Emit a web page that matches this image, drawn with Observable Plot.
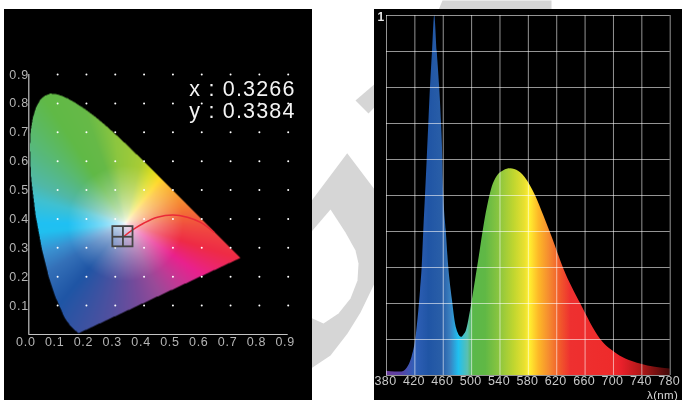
<!DOCTYPE html>
<html>
<head>
<meta charset="utf-8">
<script src="https://cdn.jsdelivr.net/npm/d3@7"></script>
<script src="https://cdn.jsdelivr.net/npm/@observablehq/plot@0.6"></script>
<style>
  html, body { margin: 0; padding: 0; background: #fff; }
  #page { position: relative; width: 682px; height: 401px; overflow: hidden; filter: blur(.35px); }
  #page svg { position: absolute; max-width: none; }
  .spaced text { letter-spacing: .7px; }
  .specpanel text { letter-spacing: .35px; }
  #page g[font-size="21.5"] text { letter-spacing: 1.2px; }
</style>
</head>
<body>
<div id="page"></div>
<script>
// ---- chromaticity diagram data ----
const locusX = [.1741,.1720,.1689,.1644,.1566,.1440,.1241,.0913,.0687,.0454,.0235,.0082,.0050,.0039,.0065,.0139,.0244,.0389,.0550,.0743,.0940,.1142,.1345,.1547,.1929,.2296,.2658,.3016,.3373,.3731,.4087,.4441,.4788,.5125,.5448,.5752,.6029,.6270,.6658,.6915,.7079,.7190,.7300,.7347];
const locusY = [.0050,.0048,.0069,.0109,.0177,.0297,.0578,.1327,.2007,.2950,.4127,.5384,.6000,.6548,.7060,.7502,.7840,.8120,.8262,.8338,.8323,.8262,.8170,.8059,.7816,.7543,.7243,.6923,.6589,.6245,.5896,.5547,.5202,.4866,.4544,.4242,.3965,.3725,.3340,.3083,.2920,.2809,.2700,.2653];
const tickValues = [0,.1,.2,.3,.4,.5,.6,.7,.8,.9];
const dotValues = [.1,.2,.3,.4,.5,.6,.7,.8,.9];
const locusRedX = [.332,.36,.40,.446,.50,.55,.596,.642];
const locusRedY = [.341,.362,.386,.406,.414,.406,.388,.354];
const pointX = .3266, pointY = .3384;
const markerHalf = .035;
const readout = ["x : 0.3266", "y : 0.3384"];
const readoutX = [.926, .926];
const readoutY = [.824, .748];
const whiteX = .335, whiteY = .385;
const hueAngles = [-180,-174,-160,-148,-129,-100,-79,-64,-50,-34,-17,-3,10,17,30,45,52,63,76,97,110,123,156,165,180];
const hueColors = ["#1fc0f3","#20c0f0","#3a90d0","#3470b8","#1f55a5","#50509f","#7a4a9a","#9a4a98","#c03a95","#e9218d","#ee2b45","#f04a40","#f26d35","#f58032","#f7a035","#fdc030","#ffd820","#d8dc20","#a8cc35","#8cc63f","#66b947","#60b946","#50b8a8","#40c0d0","#1fc0f3"];

// ---- spectrum data ----
const specLambda = [380,392,402,411.5,416,421,425.6,428,430.3,432.6,435,436,437.4,439.7,442,444.9,448,451.5,455,457.6,459.4,460,460.8,464.2,467.8,471.2,473,477.3,481,485.8,489,492.8,498.5,505.5,512,517.2,524.3,529,536,545.4,554.9,566.6,578.4,590,601.8,613.6,630,653.6,682,705,738,780];
const specValue = [.012,.01,.01,.028,.051,.097,.18,.236,.3,.403,.5,.542,.6,.7,.8,.9,1,.9,.8,.7,.6,.542,.5,.403,.3,.236,.208,.144,.118,.106,.112,.125,.18,.264,.345,.412,.486,.523,.553,.569,.574,.567,.542,.5,.444,.384,.296,.2,.1,.06,.032,.018];
const stopLambda = [380,400,420,440,460,470,482,495,502,520,540,560,575,582,595,610,625,640,700,712,740,780];
const stopColors = ["#6a3d9a","#5a40a5","#3060b8","#2055a5","#2a5fa8","#3a80c0","#20c0f0","#5ac0b0","#5ab84a","#60b845","#8cc63f","#c0d62f","#e8e030","#fff030","#fdb827","#f58a30","#f15a2b","#ee3030","#ee2b2b","#e8202a","#b01818","#400808"];
const lambdaTicks = [380,420,460,500,540,580,620,660,700,740,780];
const powerTicks = [0,.1,.2,.3,.4,.5,.6,.7,.8,.9,1];

// ---- watermark behind the panels ----
const wmGroup = ["top","top","top","top","a","a","a","a","a","a","a","a","a","a","b","b","b","b"];
const wmX = [437,442,551,551, 300,346.7,390,390,374,360,347,330,312,300, 355,368,390,390];
const wmY = [12,0,0,12, 215,152.7,210,260,283,312,333,355,367,375, 100,113,90,70];
const holeX = [330,345,355,358,357,350,338,323,312,300,300,312];
const holeY = [209,232,250,263,280,298,313,323,318,312,245,230];

const page = document.getElementById("page");
const font = "'Liberation Sans', Arial, sans-serif";

// watermark
const wm = Plot.plot({
  width: 682, height: 401, margin: 0,
  x: {axis: null, domain: [0, 682], range: [0, 682]},
  y: {axis: null, domain: [0, 401], range: [0, 401]},
  style: {background: "#fff", left: "0px", top: "0px"},
  marks: [
    Plot.line(wmX, {x: wmX, y: wmY, z: wmGroup, fill: "#d6d6d6", stroke: "none"}),
    Plot.line(holeX, {x: holeX, y: holeY, fill: "#fff", stroke: "none"})
  ]
});
page.appendChild(wm);

// chromaticity panel
const polygon = locusX.map((x, i) => [x, locusY[i]]);
const hue = d3.scaleLinear().domain(hueAngles).range(hueColors).interpolate(d3.interpolateRgb);
function gamutColor(x, y) {
  if (!d3.polygonContains(polygon, [x, y])) return null;
  const dx = x - whiteX, dy = y - whiteY;
  const angle = Math.atan2(dy, dx) * 180 / Math.PI;
  const t = Math.pow(Math.min(1, Math.hypot(dx, dy) / .2), .6);
  return d3.rgb(d3.interpolateRgb("#ffffff", hue(angle))(t)).formatHex();
}
const dots = d3.cross(dotValues, dotValues);
const cie = Plot.plot({
  width: 308, height: 391,
  marginLeft: 24.3, marginRight: 24.3, marginTop: 65, marginBottom: 66,
  x: {domain: [0, .9]},
  y: {domain: [0, .9]},
  color: {type: "identity"},
  style: {background: "#000", left: "4px", top: "9px", fontFamily: font},
  className: "spaced",
  marks: [
    Plot.raster({fill: gamutColor, pixelSize: .5, x1: 0, x2: .9, y1: 0, y2: .9}),
    Plot.dot(dots, {x: d => d[0], y: d => d[1], r: 1, fill: "#fff", stroke: "none"}),
    Plot.ruleX([0], {stroke: "#c4c4c4", strokeWidth: 1.2}),
    Plot.ruleY([0], {stroke: "#c4c4c4", strokeWidth: 1.2}),
    Plot.axisX({ticks: tickValues, tickFormat: ".1f", tickSize: 0, tickPadding: 3, dx: -3, fill: "#b4b4b4", fontSize: 12.5, label: null}),
    Plot.axisY({ticks: dotValues, tickFormat: ".1f", tickSize: 0, tickPadding: 0, fill: "#b4b4b4", fontSize: 12.5, label: null}),
    Plot.line(locusRedX, {x: locusRedX, y: locusRedY, stroke: "#ea2a38", strokeWidth: 1.5, curve: "catmull-rom"}),
    Plot.rect([0], {x1: pointX - markerHalf, x2: pointX + markerHalf, y1: pointY - markerHalf, y2: pointY + markerHalf, fill: "none", stroke: "#444", strokeWidth: 1.8}),
    Plot.ruleX([pointX], {y1: pointY - markerHalf, y2: pointY + markerHalf, stroke: "#444", strokeWidth: 1.8}),
    Plot.ruleY([pointY], {x1: pointX - markerHalf, x2: pointX + markerHalf, stroke: "#444", strokeWidth: 1.8}),
    Plot.text(readout, {
      x: readoutX, y: readoutY, text: d => d,
      lineAnchor: "bottom", textAnchor: "end",
      fill: "#f4f4f4", fontSize: 21.5, clip: false
    })
  ]
});
page.appendChild(cie);

// spectrum panel
function spectrumGradient() {
  const defs = d3.create("svg:defs");
  const grad = defs.append("linearGradient").attr("id", "spectrum").attr("x1", 0).attr("x2", 1).attr("y1", 0).attr("y2", 0);
  stopLambda.forEach((l, i) => grad.append("stop").attr("offset", (l - 380) / 400).attr("stop-color", stopColors[i]));
  return defs.node();
}
const spec = Plot.plot({
  width: 308, height: 391,
  marginLeft: 12, marginRight: 12.3, marginTop: 6, marginBottom: 25,
  x: {domain: [380, 780]},
  y: {domain: [0, 1]},
  style: {background: "#000", left: "374px", top: "9px", fontFamily: font},
  className: "specpanel",
  marks: [
    spectrumGradient,
    Plot.areaY(specLambda, {x: specLambda, y: specValue, fill: "url(#spectrum)", curve: "monotone-x"}),
    Plot.ruleX(lambdaTicks, {stroke: "#fff", strokeOpacity: .58}),
    Plot.ruleY(powerTicks, {stroke: "#fff", strokeOpacity: .58}),
    Plot.axisX({ticks: lambdaTicks, tickFormat: d => d, tickSize: 0, tickPadding: 1, dx: -1, fill: "#c8c8c8", fontSize: 12.5, label: null}),
    Plot.axisY({ticks: [1], tickFormat: d => d, tickSize: 0, tickPadding: 2, fill: "#e8e8e8", fontSize: 12, fontWeight: "bold", label: null, dy: 2}),
    Plot.text(["λ(nm)"], {frameAnchor: "bottom-right", lineAnchor: "middle", textAnchor: "end", dx: 8, dy: 19.5, fill: "#d8d8d8", fontSize: 11.5})
  ]
});
page.appendChild(spec);
</script>
</body>
</html>
